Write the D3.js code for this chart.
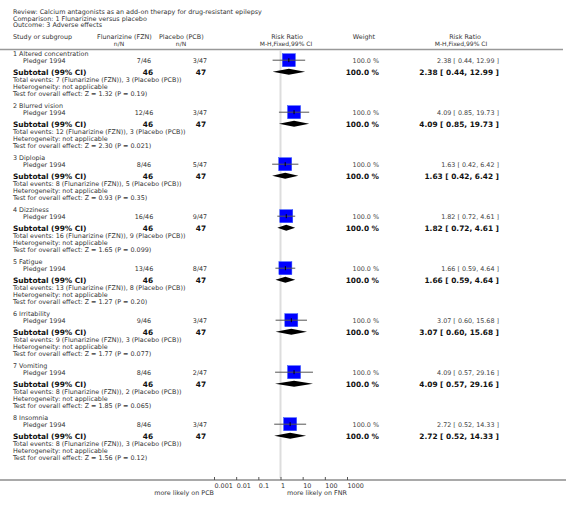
<!DOCTYPE html>
<html><head><meta charset="utf-8">
<script src="https://cdn.jsdelivr.net/npm/d3@7"></script>
<style>body{margin:0;background:#fff}svg{display:block}text{font-family:"DejaVu Sans",Verdana,sans-serif}</style>
</head><body>
<script>
const headerLines = ["Review:  Calcium antagonists as an add-on therapy for drug-resistant epilepsy","Comparison:  1 Flunarizine versus placebo","Outcome:  3 Adverse effects"];
const groups = ["1 Altered concentration","2 Blurred vision","3 Diplopia","4 Dizziness","5 Fatigue","6 Irritability","7 Vomiting","8 Insomnia"];
const study = "Pledger 1994";
const fznEvents = [7,12,8,16,13,9,8,8];
const fznTotal = 46;
const pcbEvents = [3,3,5,9,8,3,2,3];
const pcbTotal = 47;
const rr = [2.38,4.09,1.63,1.82,1.66,3.07,4.09,2.72];
const lo = [0.44,0.85,0.42,0.72,0.59,0.60,0.57,0.52];
const hi = [12.99,19.73,6.42,4.61,4.64,15.68,29.16,14.33];
const zStat = ["1.32","2.30","0.93","1.65","1.27","1.77","1.85","1.56"];
const pVal = ["0.19","0.021","0.35","0.099","0.20","0.077","0.065","0.12"];
const weight = [100,100,100,100,100,100,100,100];
const tickVals = [0.001,0.01,0.1,1,10,100,1000];
const tickLabels = ["0.001","0.01","0.1","1","10","100","1000"];

const W=566,H=509;
const svg=d3.select("body").append("svg").attr("width",W).attr("height",H);
svg.append("rect").attr("width",W).attr("height",H).attr("fill","#fff");
const x=d3.scaleLog().domain([0.001,1000]).range([214,347]);
const rowY=d3.scaleLinear().domain([0,1]).range([53.5,105.5]);
const fs=6.4, fsB=7.4, col="#333";
function t(str,xx,yy,opt={}){
  return svg.append("text").attr("x",xx).attr("y",yy).text(str)
   .attr("font-size",opt.size||fs).attr("fill",opt.fill||col)
   .attr("font-weight",opt.bold?"bold":"normal")
   .attr("text-anchor",opt.anchor||"start");
}
const fmt=d3.format(".2f");
headerLines.forEach((s,i)=>t(s,13,14+i*6.6));
// column headers
const h1=39.3,h2=46.2;
t("Study or subgroup",13,h1);
t("Flunarizine (FZN)",97,h1);
t("n/N",119,h2,{anchor:"middle",size:6.0});
t("Placebo (PCB)",159,h1);
t("n/N",181,h2,{anchor:"middle",size:6.0});
t("Risk Ratio",287,h1,{anchor:"middle"});
t("M-H,Fixed,99% CI",286,h2,{anchor:"middle",size:6.0});
t("Weight",364,h1,{anchor:"middle"});
t("Risk Ratio",465,h1,{anchor:"middle"});
t("M-H,Fixed,99% CI",461,h2,{anchor:"middle",size:6.0});
svg.append("line").attr("x1",0).attr("x2",563).attr("y1",49.5).attr("y2",49.5).attr("stroke","#999").attr("stroke-width",1.5);
// vertical null line
svg.append("line").attr("x1",x(1)).attr("x2",x(1)).attr("y1",50).attr("y2",478).attr("stroke","#ddd").attr("stroke-width",2);

groups.forEach((g,i)=>{
  const y0=rowY(i);
  const ys=y0+7.5, yt=y0+18.5;
  t(g,13,y0+2.3);
  t(study,23,ys+2.3);
  t(fznEvents[i]+"/"+fznTotal,144,ys+2.3,{anchor:"middle"});
  t(pcbEvents[i]+"/"+pcbTotal,200,ys+2.3,{anchor:"middle"});
  t(weight[i].toFixed(1)+" %",379,ys+2.3,{anchor:"end",fill:"#444"});
  t(fmt(rr[i])+" [ "+fmt(lo[i])+", "+fmt(hi[i])+" ]",499,ys+2.3,{anchor:"end",fill:"#444"});
  t("Subtotal (99% CI)",13,yt+2.7,{bold:true,size:fsB,fill:"#111"});
  t(String(fznTotal),148,yt+2.7,{bold:true,size:fsB,anchor:"middle",fill:"#111"});
  t(String(pcbTotal),201,yt+2.7,{bold:true,size:fsB,anchor:"middle",fill:"#111"});
  t(weight[i].toFixed(1)+" %",379,yt+2.7,{bold:true,size:fsB,anchor:"end",fill:"#111"});
  t(fmt(rr[i])+" [ "+fmt(lo[i])+", "+fmt(hi[i])+" ]",499,yt+2.7,{bold:true,size:fsB,anchor:"end",fill:"#111"});
  t("Total events: "+fznEvents[i]+" (Flunarizine (FZN)), "+pcbEvents[i]+" (Placebo (PCB))",13,y0+26+2.3);
  t("Heterogeneity: not applicable",13,y0+33+2.3);
  t("Test for overall effect: Z = "+zStat[i]+" (P = "+pVal[i]+")",13,y0+40+2.3);
  // square + CI
  const sq=13, cx=x(rr[i]), cy=ys-0.8;
  svg.append("rect").attr("x",cx-sq/2).attr("y",cy-sq/2).attr("width",sq).attr("height",sq)
    .attr("fill","#0000ff").attr("stroke","#3355ff").attr("stroke-width",0.5);
  svg.append("line").attr("x1",x(lo[i])).attr("x2",x(hi[i])).attr("y1",cy).attr("y2",cy).attr("stroke","#555").attr("stroke-width",1);
  svg.append("line").attr("x1",cx).attr("x2",cx).attr("y1",cy-2).attr("y2",cy+2).attr("stroke","#000").attr("stroke-width",1);
  // diamond
  const dy=y0+18.3, dh=3;
  svg.append("path").attr("d",`M${x(lo[i])},${dy}L${cx},${dy-dh}L${x(hi[i])},${dy}L${cx},${dy+dh}Z`).attr("fill","#000");
});

// axis
svg.append("line").attr("x1",0).attr("x2",W).attr("y1",480).attr("y2",480).attr("stroke","#555").attr("stroke-width",1.2);
const ax=svg.append("g").attr("transform","translate(0,480)")
  .call(d3.axisBottom(x).tickValues(tickVals).tickFormat((d,i)=>tickLabels[i]).tickSize(-3).tickPadding(3.5));
ax.select(".domain").remove();
ax.selectAll(".tick line").attr("stroke","#555");
ax.selectAll(".tick text").attr("text-anchor","start").attr("font-size",fs).attr("fill",col).attr("font-family","DejaVu Sans");
t("more likely on PCB",x(0.001),495,{anchor:"end"});
t("more likely on FNR",x(1000),495,{anchor:"end"});
</script>
</body></html>
